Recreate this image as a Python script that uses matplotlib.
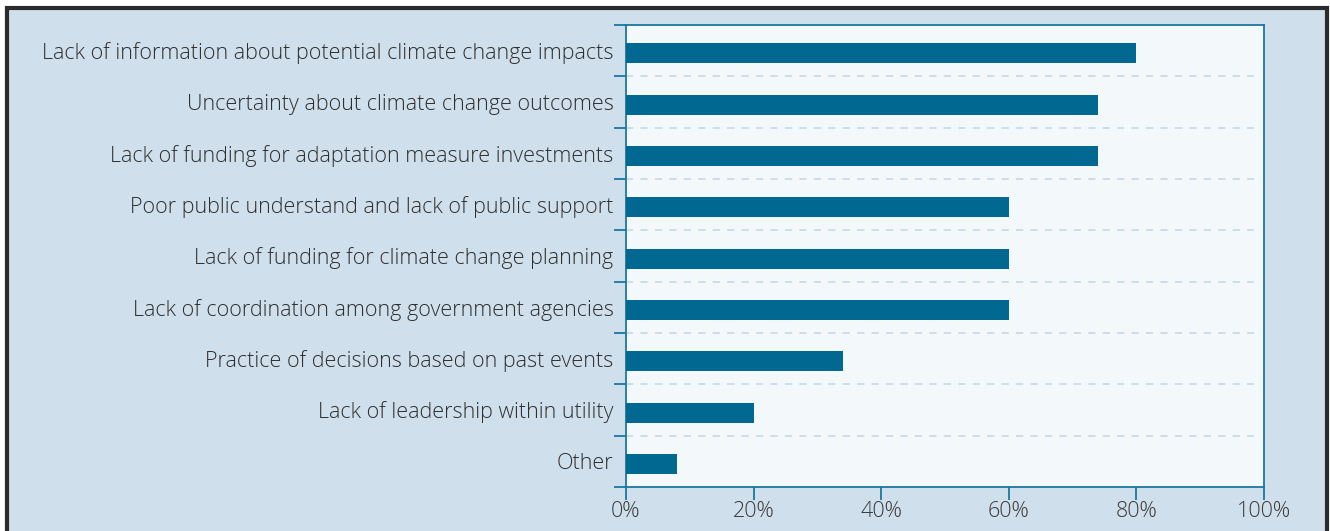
import matplotlib
matplotlib.use("Agg")
import matplotlib.pyplot as plt
from matplotlib.patches import Rectangle
import numpy as np

categories = [
    "Lack of information about potential climate change impacts",
    "Uncertainty about climate change outcomes",
    "Lack of funding for adaptation measure investments",
    "Poor public understand and lack of public support",
    "Lack of funding for climate change planning",
    "Lack of coordination among government agencies",
    "Practice of decisions based on past events",
    "Lack of leadership within utility",
    "Other",
]
values = [80, 74, 74, 60, 60, 60, 34, 20, 8]
xticks = [0, 20, 40, 60, 80, 100]
xticklabels = ["0%", "20%", "40%", "60%", "80%", "100%"]

W, H = 1330, 531
fig = plt.figure(figsize=(W / 100, H / 100), dpi=100)
fig.patch.set_facecolor("white")

# outer panel
panel = Rectangle((7 / W, -0.05), (1327 - 7) / W, (H - 8) / H + 0.05,
                  transform=fig.transFigure, facecolor="#cfdfeb",
                  edgecolor="#2b2b2b", linewidth=3, zorder=-10)
fig.patches.append(panel)

ax = fig.add_axes([626 / W, 1 - 487 / H, (1264 - 626) / W, (487 - 25) / H])
ax.set_zorder(5)
ax.set_facecolor("#f3f8fb")

n = len(categories)
ypos = np.arange(n)
ax.barh(ypos + 0.05, values, height=0.39, color="#006891", zorder=3)
ax.set_xlim(0, 100)
ax.set_ylim(n - 0.5, -0.5)

ax.set_yticks(ypos)
ax.set_yticklabels(categories)
ax.set_yticks(np.arange(-0.5, n, 1), minor=True)
ax.tick_params(axis="y", which="major", length=0, pad=9, labelsize=15.5,
               labelcolor="#2e2e2e")
ax.tick_params(axis="y", which="minor", length=9, width=1.3, color="#1a78a0")

ax.set_xticks(xticks)
ax.set_xticklabels(xticklabels)
ax.tick_params(axis="x", length=9, width=1.3, color="#1a78a0", pad=1,
               labelsize=15.5, labelcolor="#3a3a3a")

for yb in np.arange(0.5, n - 1, 1):
    ax.axhline(yb, color="#c9dbe8", linestyle=(0, (4, 4)), linewidth=1.3,
               zorder=1, xmax=0.985)

for s in ax.spines.values():
    s.set_color("#1a78a0")
    s.set_linewidth(1.3)

for lab in ax.get_yticklabels() + ax.get_xticklabels():
    lab.set_fontfamily("Open Sans")
    lab.set_fontweight("light")

fig.savefig("out.png", dpi=100)
